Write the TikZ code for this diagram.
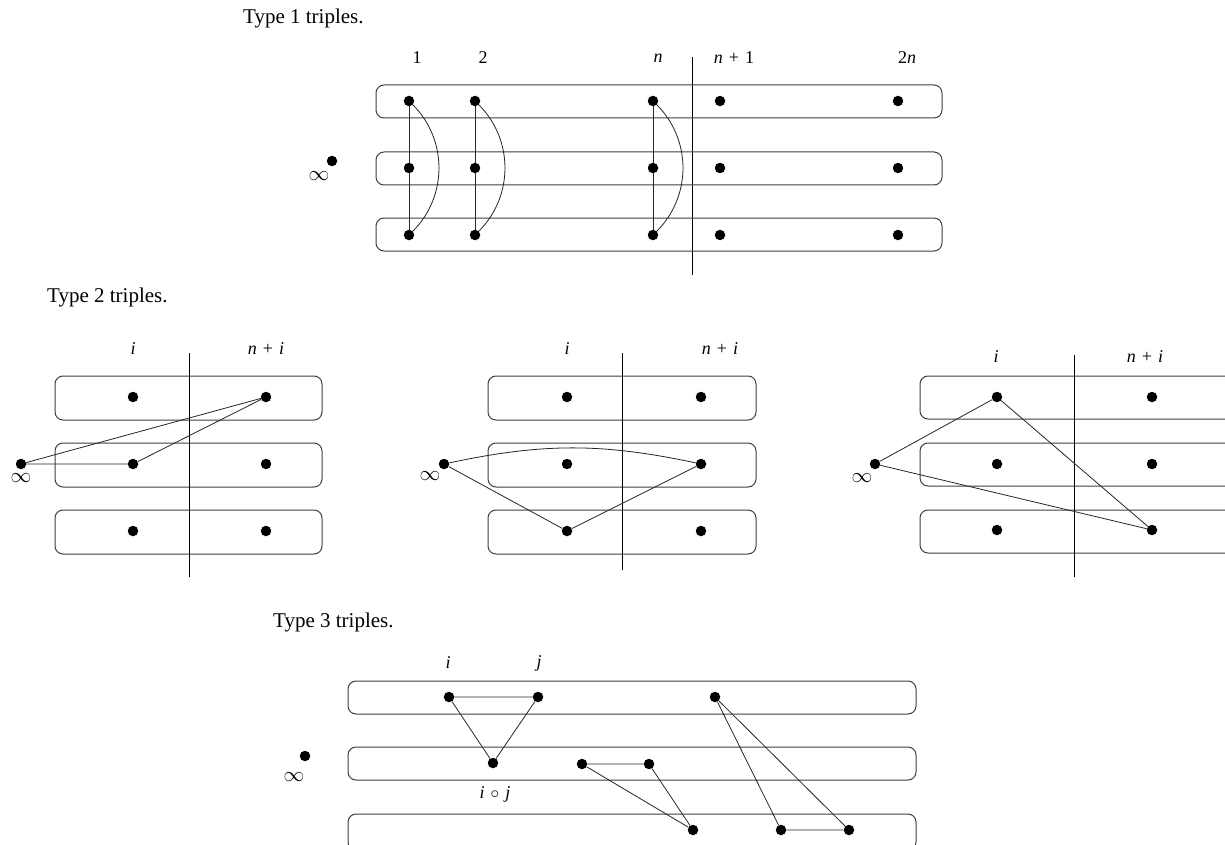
\documentclass[tikz,border=0pt]{standalone}
\usepackage{fontspec}
\setmainfont{Liberation Serif}
\begin{document}
\begin{tikzpicture}[x=1pt,y=-1pt,
  dot/.style={circle,fill=black,inner sep=0pt,minimum size=10.5pt},
  rowbox/.style={draw=black!75,line width=1pt,rounded corners=8pt},
  edge/.style={line width=0.8pt,black!85},
  divline/.style={line width=1pt},
  title/.style={anchor=west,inner sep=0pt,font=\fontsize{21}{24}\selectfont},
  lab/.style={inner sep=0pt,font=\fontsize{18}{20}\selectfont},
  inf/.style={inner sep=0pt,font=\fontsize{22}{24}\selectfont}]
\useasboundingbox (0,0) rectangle (1225,845);
\fill[white] (0,0) rectangle (1225,845);

% ---------------- Type 1 ----------------
\node[title] (t1) at (243,18) {Type 1 triples.};
\node[lab] (l1) at (417,58) {1};
\node[lab] (l2) at (483,58) {2};
\node[lab] (ln) at (658,58) {\textit{n}};
\node[lab] (ln1) at (734,58) {\textit{n}\kern6pt+\kern6pt1};
\node[lab] (l2n) at (907,58) {2\textit{n}};
\draw[divline] (692,57) -- (692,275);
\foreach \y in {85,152,218} \draw[rowbox] (376,\y) rectangle (942,\y+33);
\foreach \c/\x in {a/409,b/475,c/653,d/720,e/898}{
  \node[dot] (\c1) at (\x,101) {};
  \node[dot] (\c2) at (\x,168) {};
  \node[dot] (\c3) at (\x,235) {};
}
\foreach \c in {a,b,c}{
  \draw[edge] (\c1) -- (\c2) -- (\c3);
  \draw[edge] (\c1) to[bend left=45] (\c3);
}
\node[inf] (inf1) at (319,176) {$\infty$};
\node[dot] (infd1) at (332,161) {};

% ---------------- Type 2 ----------------
\node[title] (t2) at (47,297) {Type 2 triples.};
% panel A
\node[lab] (pAi) at (133,349) {\textit{i}};
\node[lab] (pAni) at (266,349) {\textit{n}\kern6pt+\kern6pt\textit{i}};
\foreach \y in {376,443,510} \draw[rowbox] (55,\y) rectangle (322,\y+44);
\draw[divline] (189,353) -- (189,577);
\foreach \r/\y in {1/397,2/464,3/531}{
  \node[dot] (A\r l) at (133,\y) {};
  \node[dot] (A\r r) at (266,\y) {};
}
\node[dot] (Ainf) at (21,464) {};
\node[inf] (Ainfs) at (21,478) {$\infty$};
\draw[edge] (Ainf) -- (A2l) -- (A1r) -- (Ainf);
% panel B
\node[lab] (pBi) at (567,349) {\textit{i}};
\node[lab] (pBni) at (720,349) {\textit{n}\kern6pt+\kern6pt\textit{i}};
\foreach \y in {376,443,510} \draw[rowbox] (488,\y) rectangle (756,\y+44);
\draw[divline] (622,353) -- (622,570);
\foreach \r/\y in {1/397,2/464,3/531}{
  \node[dot] (B\r l) at (567,\y) {};
  \node[dot] (B\r r) at (701,\y) {};
}
\node[dot] (Binf) at (444,464) {};
\node[inf] (Binfs) at (430,476) {$\infty$};
\draw[edge] (Binf) to[bend left=12] (B2r);
\draw[edge] (Binf) -- (B3l) -- (B2r);
% panel C
\node[lab] (pCi) at (996,357) {\textit{i}};
\node[lab] (pCni) at (1145,357) {\textit{n}\kern6pt+\kern6pt\textit{i}};
\foreach \y in {376,443,510} \draw[rowbox] (920,\y) rectangle (1245,\y+43);
\draw[divline] (1074,355) -- (1074,577);
\foreach \r/\y in {1/397,2/464,3/530}{
  \node[dot] (C\r l) at (997,\y) {};
  \node[dot] (C\r r) at (1152,\y) {};
}
\node[dot] (Cinf) at (875,464) {};
\node[inf] (Cinfs) at (862,478) {$\infty$};
\draw[edge] (Cinf) -- (C1l) -- (C3r) -- (Cinf);

% ---------------- Type 3 ----------------
\node[title] (t3) at (273,622) {Type 3 triples.};
\node[lab] (ti) at (448,663) {\textit{i}};
\node[lab] (tj) at (539,663) {\textit{j}};
\node[lab] (tij) at (495,794) {\textit{i}\kern6pt$\circ$\kern6pt\textit{j}};
\draw[rowbox] (348,681) rectangle (916,714);
\draw[rowbox] (348,747) rectangle (916,780);
\draw[rowbox] (348,814) rectangle (916,850);
\node[dot] (Di) at (449,697) {};
\node[dot] (Dj) at (538,697) {};
\node[dot] (Dij) at (493,763) {};
\node[dot] (E1) at (582,764) {};
\node[dot] (E2) at (649,764) {};
\node[dot] (E3) at (693,830) {};
\node[dot] (F1) at (715,697) {};
\node[dot] (F2) at (781,830) {};
\node[dot] (F3) at (849,830) {};
\draw[edge] (Di) -- (Dj) -- (Dij) -- (Di);
\draw[edge] (E1) -- (E2) -- (E3) -- (E1);
\draw[edge] (F1) -- (F2) -- (F3) -- (F1);
\node[inf] (inf3) at (294,777) {$\infty$};
\node[dot] (infd3) at (305,756) {};
\end{tikzpicture}
\end{document}
